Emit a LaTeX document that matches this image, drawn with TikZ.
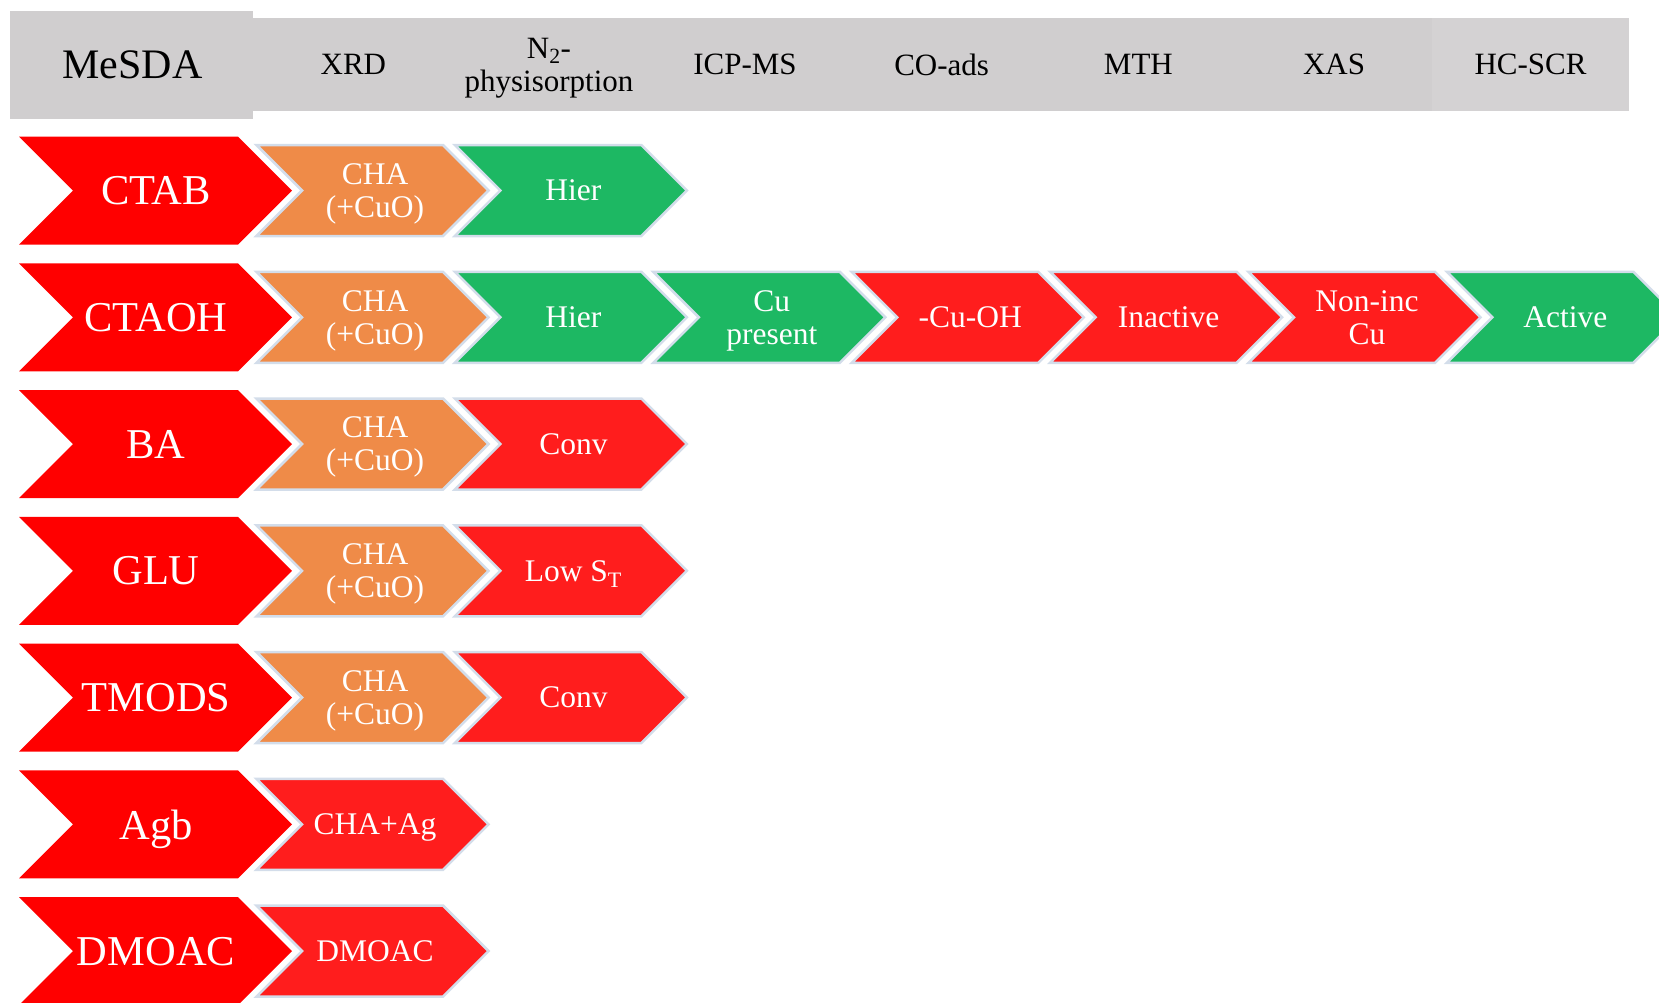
\documentclass[tikz,border=0pt]{standalone}
\usepackage{fontspec}
\setmainfont{Liberation Serif}

\definecolor{hdr}{HTML}{D0CECF}
\definecolor{hdrlight}{HTML}{D4D2D3}
\definecolor{leadred}{HTML}{FF0000}
\definecolor{stred}{HTML}{FF1D1D}
\definecolor{storange}{HTML}{EF8B48}
\definecolor{stgreen}{HTML}{1DB863}
\definecolor{rim}{HTML}{D3DDEA}

\tikzset{
  headtext/.style={font=\fontsize{31}{33}\selectfont, text=black, align=center, inner sep=0pt, text depth=0pt},
  titletext/.style={font=\fontsize{42}{44}\selectfont, text=black, inner sep=0pt, text depth=0pt},
  leadtext/.style={font=\fontsize{42.5}{45}\selectfont, text=white, inner sep=0pt, text depth=0pt},
  stagetext/.style={font=\fontsize{31.5}{33}\selectfont, text=white, align=center, inner sep=0pt, text depth=0pt},
  stagebox/.style={draw=rim, line width=2.5pt, line join=miter},
}

% first-column chevron: name, centre y, label
\newcommand\leadchev[3]{%
  \fill[leadred] (19,#2-54) -- (238,#2-54) -- (292,#2) -- (238,#2+54) -- (19,#2+54) -- (73,#2) -- cycle;
  \node[leadtext] (#1) at (156,#2) {#3};
}
% stage chevron: colour, name, column, centre y, label
\newcommand\stagechev[5]{%
  \filldraw[stagebox, fill=#1] (256.5+198.4*#3,#4-45.5) -- ++(186.5,0) -- ++(45.5,45.5)
    -- ++(-45.5,45.5) -- ++(-186.5,0) -- ++(45.5,-45.5) -- cycle;
  \node[stagetext] (#2) at (256.5+198.4*#3+118.5,#4) {#5};
}

\begin{document}
\begin{tikzpicture}[x=1pt,y=-1pt]
\useasboundingbox (0,0) rectangle (1659,1002);
\clip (0,0) rectangle (1659,1002);

% header
\fill[hdr] (9.5,10.5) rectangle (253,118.5);
\fill[hdr] (253,17.7) rectangle (1432,110.5);
\fill[hdrlight] (1432,17.7) rectangle (1629,110.5);
\node[titletext] (mesda) at (132.5,64.5) {MeSDA};
\node[headtext] (xrd) at (353.4,64.5) {XRD};
\node[headtext] (nphys) at (549,64.5) {N\textsubscript{2}-\\physisorption};
\node[headtext] (icp) at (745,64.5) {ICP-MS};
\node[headtext] (coads) at (941.6,64.5) {CO-ads};
\node[headtext] (mth) at (1138.4,64.5) {MTH};
\node[headtext] (xas) at (1334,64.5) {XAS};
\node[headtext] (hcscr) at (1530.5,64.5) {HC-SCR};

% row 1: CTAB
\leadchev{ctab}{190.5}{CTAB}
\stagechev{storange}{ctab-xrd}{0}{190.5}{CHA\\(+CuO)}
\stagechev{stgreen}{ctab-phys}{1}{190.5}{Hier}

% row 2: CTAOH
\leadchev{ctaoh}{317.3}{CTAOH}
\stagechev{storange}{ctaoh-xrd}{0}{317.3}{CHA\\(+CuO)}
\stagechev{stgreen}{ctaoh-phys}{1}{317.3}{Hier}
\stagechev{stgreen}{ctaoh-icp}{2}{317.3}{Cu\\present}
\stagechev{stred}{ctaoh-co}{3}{317.3}{-Cu-OH}
\stagechev{stred}{ctaoh-mth}{4}{317.3}{Inactive}
\stagechev{stred}{ctaoh-xas}{5}{317.3}{Non-inc\\Cu}
\stagechev{stgreen}{ctaoh-scr}{6}{317.3}{Active}

% row 3: BA
\leadchev{ba}{444}{BA}
\stagechev{storange}{ba-xrd}{0}{444}{CHA\\(+CuO)}
\stagechev{stred}{ba-phys}{1}{444}{Conv}

% row 4: GLU
\leadchev{glu}{570.8}{GLU}
\stagechev{storange}{glu-xrd}{0}{570.8}{CHA\\(+CuO)}
\stagechev{stred}{glu-phys}{1}{570.8}{Low S\textsubscript{T}}

% row 5: TMODS
\leadchev{tmods}{697.5}{TMODS}
\stagechev{storange}{tmods-xrd}{0}{697.5}{CHA\\(+CuO)}
\stagechev{stred}{tmods-phys}{1}{697.5}{Conv}

% row 6: Agb
\leadchev{agb}{824.3}{Agb}
\stagechev{stred}{agb-xrd}{0}{824.3}{CHA+Ag}

% row 7: DMOAC
\leadchev{dmoac}{951}{DMOAC}
\stagechev{stred}{dmoac-xrd}{0}{951}{DMOAC}
\end{tikzpicture}
\end{document}
